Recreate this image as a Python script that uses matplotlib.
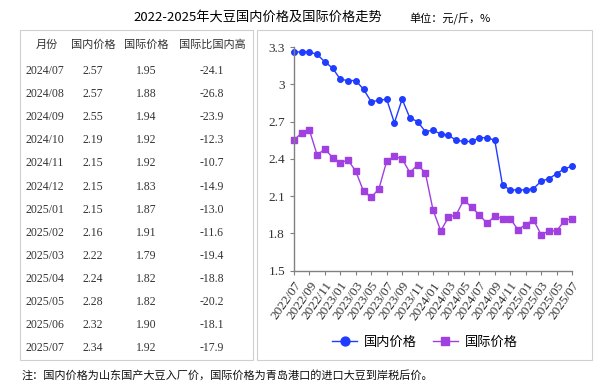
import matplotlib
matplotlib.use("Agg")
import matplotlib.pyplot as plt
from matplotlib.patches import Rectangle

# monthly prices 2022/07 - 2025/07 (yuan per jin)
months = ["%d/%02d" % (2022 + (6 + i) // 12, (6 + i) % 12 + 1) for i in range(37)]
domestic = [3.26, 3.26, 3.26, 3.24, 3.18, 3.13, 3.04, 3.03, 3.03, 2.96, 2.86, 2.87, 2.88,
            2.69, 2.88, 2.73, 2.70, 2.62, 2.63, 2.60, 2.59, 2.55, 2.54, 2.54, 2.57,
            2.57, 2.55, 2.19, 2.15, 2.15, 2.15, 2.16, 2.22, 2.24, 2.28, 2.32, 2.34]
international = [2.55, 2.61, 2.63, 2.43, 2.48, 2.41, 2.37, 2.39, 2.30, 2.14, 2.09, 2.16, 2.38,
                 2.42, 2.40, 2.29, 2.35, 2.29, 1.99, 1.82, 1.93, 1.95, 2.07, 2.01, 1.95,
                 1.88, 1.94, 1.92, 1.92, 1.83, 1.87, 1.91, 1.79, 1.82, 1.82, 1.90, 1.92]

# table on the left
tbl_months = ["2024/07", "2024/08", "2024/09", "2024/10", "2024/11", "2024/12", "2025/01",
              "2025/02", "2025/03", "2025/04", "2025/05", "2025/06", "2025/07"]
tbl_dom = ["2.57", "2.57", "2.55", "2.19", "2.15", "2.15", "2.15", "2.16", "2.22", "2.24", "2.28", "2.32", "2.34"]
tbl_int = ["1.95", "1.88", "1.94", "1.92", "1.92", "1.83", "1.87", "1.91", "1.79", "1.82", "1.82", "1.90", "1.92"]
tbl_gap = ["-24.1", "-26.8", "-23.9", "-12.3", "-10.7", "-14.9", "-13.0", "-11.6", "-19.4", "-18.8", "-20.2", "-18.1", "-17.9"]
headers = ["月份", "国内价格", "国际价格", "国际比国内高"]

serif = ["Liberation Serif", "Noto Sans CJK SC"]
cjk = ["Noto Sans CJK SC", "DejaVu Sans"]

W, H = 614, 389
fig = plt.figure(figsize=(W / 100, H / 100), dpi=100)

def fx(x):
    return x / W

def fy(y):
    return 1 - y / H

# frames
fig.patches.append(Rectangle((fx(20), fy(360)), fx(233) , 330 / H, transform=fig.transFigure,
                             fill=False, edgecolor="#cfcfcf", linewidth=0.8))
fig.patches.append(Rectangle((fx(257), fy(360)), fx(335), 330 / H, transform=fig.transFigure,
                             fill=False, edgecolor="#cfcfcf", linewidth=0.8))

fig.text(fx(258), fy(17), "2022-2025年大豆国内价格及国际价格走势", family=cjk, fontsize=9.5,
         ha="center", va="center")
fig.text(fx(450), fy(19), "单位：元/斤，%", family=cjk, fontsize=8, ha="center", va="center")

# table
col_x = [47, 93, 146, 212]
for x, h in zip(col_x, headers):
    fig.text(fx(x), fy(45), h, family=cjk, fontsize=8, ha="center", va="center", color="#333333")
for i in range(len(tbl_months)):
    y = 71 + i * 23.1
    fig.text(fx(26), fy(y), tbl_months[i], family=serif, fontsize=8.5, ha="left", va="center", color="#333333")
    fig.text(fx(93), fy(y), tbl_dom[i], family=serif, fontsize=8.5, ha="center", va="center", color="#333333")
    fig.text(fx(146), fy(y), tbl_int[i], family=serif, fontsize=8.5, ha="center", va="center", color="#333333")
    fig.text(fx(212), fy(y), tbl_gap[i], family=serif, fontsize=8.5, ha="center", va="center", color="#333333")

# line chart
ax = fig.add_axes([fx(294), fy(270.7), fx(572 - 294), (270.7 - 47) / H])
x = list(range(len(months)))
ax.plot(x, domestic, color="#1f3cff", marker="o", markersize=4, linewidth=1, label="国内价格", clip_on=False)
ax.plot(x, international, color="#a040e0", marker="s", markersize=4, linewidth=1, label="国际价格", clip_on=False)
ax.set_xlim(0, 36)
ax.set_ylim(1.5, 3.3)
ax.set_yticks([1.5, 1.8, 2.1, 2.4, 2.7, 3.0, 3.3])
ax.set_yticklabels(["1.5", "1.8", "2.1", "2.4", "2.7", "3", "3.3"])
ax.set_xticks(x[::2])
ax.set_xticklabels(months[::2], rotation=55, ha="right", rotation_mode="anchor")
for s in ["top", "right"]:
    ax.spines[s].set_visible(False)
for s in ["left", "bottom"]:
    ax.spines[s].set_color("#808080")
    ax.spines[s].set_linewidth(1)
ax.tick_params(colors="#808080", length=3, width=0.8)
for lab in ax.get_xticklabels() + ax.get_yticklabels():
    lab.set_family(serif)
    lab.set_fontsize(9.5)
    lab.set_color("#333333")

fig.legend(loc="center", bbox_to_anchor=(fx(425), fy(342)), ncol=2, frameon=False,
           prop={"family": cjk, "size": 9.5}, handlelength=1.9, columnspacing=1.2,
           handletextpad=0.5, markerscale=1.6)

fig.text(fx(22), fy(375), "注：国内价格为山东国产大豆入厂价，国际价格为青岛港口的进口大豆到岸税后价。",
         family=cjk, fontsize=8, ha="left", va="center", color="#111111")

fig.savefig("out.png", dpi=100)
